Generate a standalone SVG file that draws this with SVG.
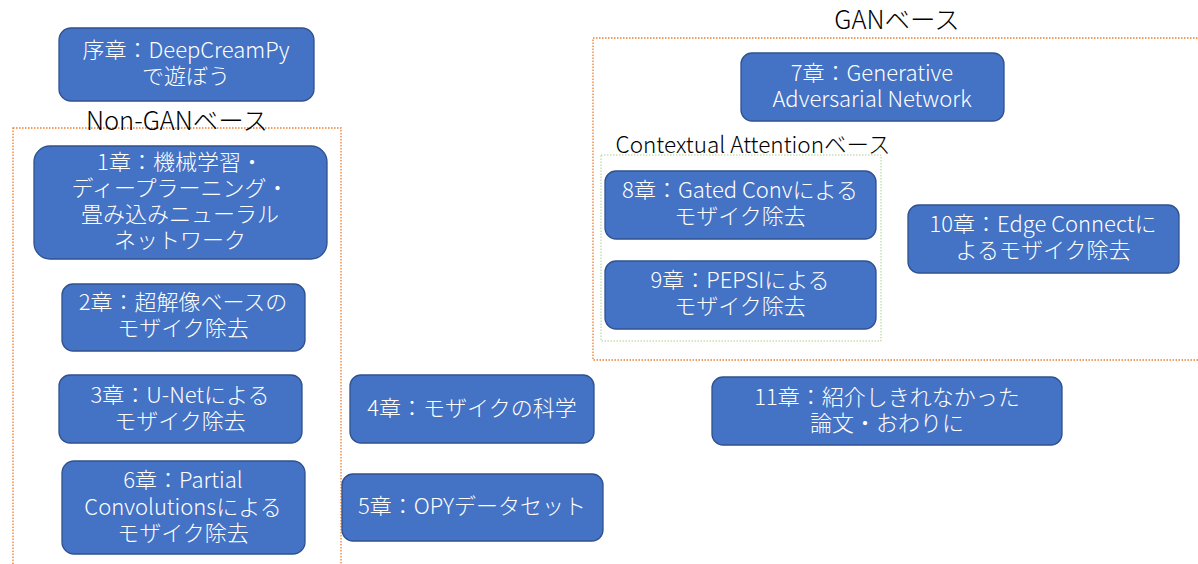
<svg xmlns="http://www.w3.org/2000/svg" width="1198" height="564" viewBox="0 0 1198 564">
<style>
.n rect{fill:#4472C4;stroke:#2F528F;stroke-width:1.3}
.n text{fill:#fff;font-family:"Noto Sans CJK JP","Noto Sans",sans-serif;font-size:22px;text-anchor:middle;font-weight:300}
.lbl{fill:#000;font-family:"Noto Sans CJK JP","Noto Sans",sans-serif;font-size:25.5px;font-weight:300;text-anchor:middle}
.grp{fill:none;stroke:#ED7D31;stroke-width:1.3;stroke-dasharray:1.5 1.5}
.sub{fill:none;stroke:#A9D18E;stroke-width:1;stroke-dasharray:1.5 1.5}
</style>
<rect width="1198" height="564" fill="#fff"/>
<g id="groups">
<rect class="grp" x="13" y="128" width="328" height="460"/>
<rect class="grp" x="593" y="38" width="620" height="322"/>
<rect class="sub" x="601" y="155" width="280" height="186"/>
<text class="lbl" x="177" y="130">Non-GANベース</text>
<text class="lbl" x="897" y="29">GANベース</text>
<text class="lbl" x="753" y="153" style="font-size:22.5px">Contextual Attentionベース</text>
</g>
<g id="connectors"></g>
<g id="n0" class="n"><rect x="59" y="28" width="255" height="73" rx="12"/><text><tspan x="186" y="58">序章：DeepCreamPy</tspan><tspan x="186" y="84">で遊ぼう</tspan></text></g>
<g id="n1" class="n"><rect x="34" y="146" width="293" height="113" rx="16"/><text><tspan x="180" y="170">1章：機械学習・</tspan><tspan x="180" y="196">ディープラーニング・</tspan><tspan x="180" y="222">畳み込みニューラル</tspan><tspan x="180" y="248">ネットワーク</tspan></text></g>
<g id="n2" class="n"><rect x="62" y="284" width="243" height="67" rx="11"/><text><tspan x="183" y="310">2章：超解像ベースの</tspan><tspan x="183" y="336">モザイク除去</tspan></text></g>
<g id="n3" class="n"><rect x="59" y="375" width="243" height="68" rx="11"/><text><tspan x="180" y="403">3章：U-Netによる</tspan><tspan x="180" y="429">モザイク除去</tspan></text></g>
<g id="n6" class="n"><rect x="62" y="461" width="243" height="93" rx="12"/><text><tspan x="183" y="488">6章：Partial</tspan><tspan x="183" y="515">Convolutionsによる</tspan><tspan x="183" y="541">モザイク除去</tspan></text></g>
<g id="n4" class="n"><rect x="350" y="375" width="244" height="68" rx="11"/><text x="472" y="416">4章：モザイクの科学</text></g>
<g id="n5" class="n"><rect x="342" y="474" width="261" height="67" rx="11"/><text x="472" y="514">5章：OPYデータセット</text></g>
<g id="n7" class="n"><rect x="741" y="53" width="263" height="68" rx="11"/><text><tspan x="872" y="81">7章：Generative</tspan><tspan x="872" y="107">Adversarial Network</tspan></text></g>
<g id="n8" class="n"><rect x="605" y="171" width="271" height="68" rx="11"/><text><tspan x="740" y="198">8章：Gated Convによる</tspan><tspan x="740" y="224">モザイク除去</tspan></text></g>
<g id="n9" class="n"><rect x="605" y="261" width="271" height="68" rx="11"/><text><tspan x="740" y="288">9章：PEPSIによる</tspan><tspan x="740" y="314">モザイク除去</tspan></text></g>
<g id="n10" class="n"><rect x="908" y="205" width="271" height="68" rx="11"/><text><tspan x="1043" y="232">10章：Edge Connectに</tspan><tspan x="1043" y="258">よるモザイク除去</tspan></text></g>
<g id="n11" class="n"><rect x="712" y="377" width="350" height="68" rx="11"/><text><tspan x="887" y="405">11章：紹介しきれなかった</tspan><tspan x="887" y="431">論文・おわりに</tspan></text></g>
</svg>
